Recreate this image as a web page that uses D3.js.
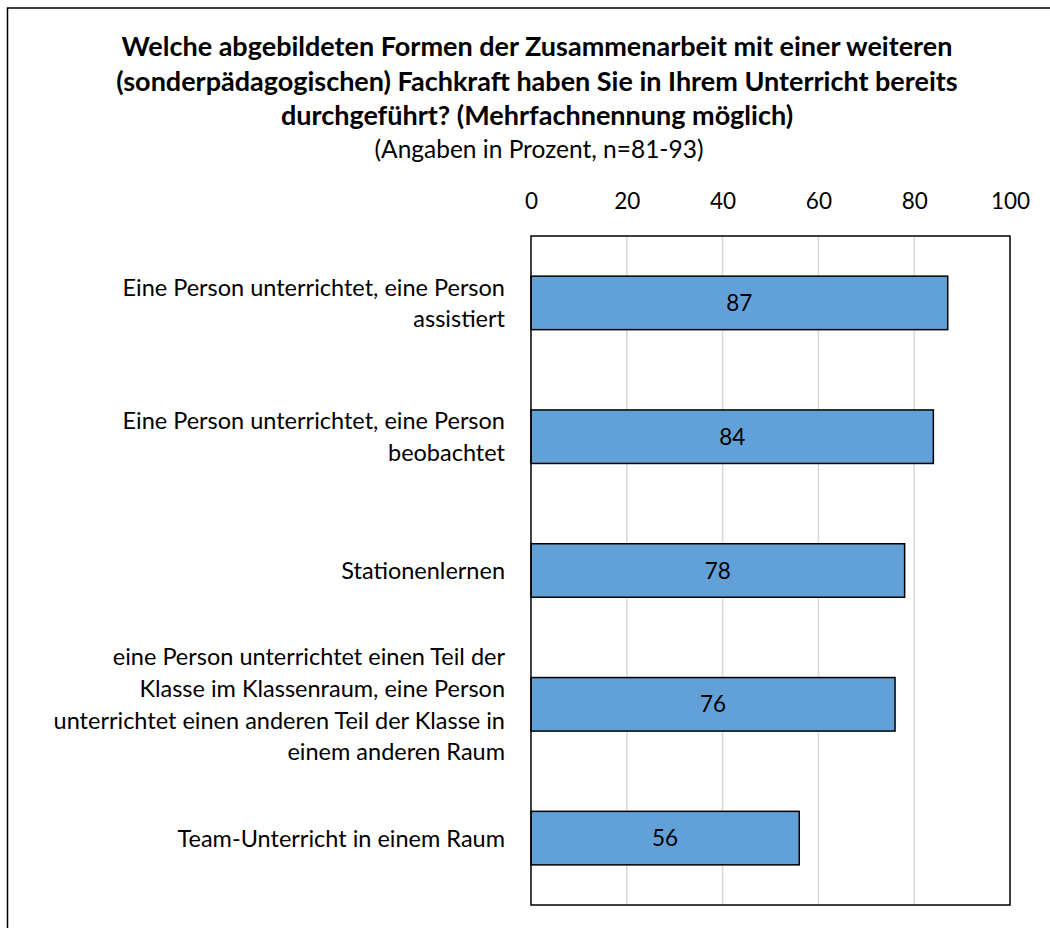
<!DOCTYPE html>
<html>
<head>
<meta charset="utf-8">
<script src="https://cdn.jsdelivr.net/npm/d3@7"></script>
<style>
  body { margin: 0; background: #fff; }
  svg { display: block; font-family: Lato, "Open Sans", sans-serif; }
</style>
</head>
<body>
<div id="chart"></div>
<script>
// data
var categories = [
  "Eine Person unterrichtet, eine Person|assistiert",
  "Eine Person unterrichtet, eine Person|beobachtet",
  "Stationenlernen",
  "eine Person unterrichtet einen Teil der|Klasse im Klassenraum, eine Person|unterrichtet einen anderen Teil der Klasse in|einem anderen Raum",
  "Team-Unterricht in einem Raum"
];
var values = [87, 84, 78, 76, 56];
var tickValues = [0, 20, 40, 60, 80, 100];
var titleLines = [
  "Welche abgebildeten Formen der Zusammenarbeit mit einer weiteren",
  "(sonderpädagogischen) Fachkraft haben Sie in Ihrem Unterricht bereits",
  "durchgeführt? (Mehrfachnennung möglich)"
];
var subtitle = "(Angaben in Prozent, n=81-93)";

var W = 1050, H = 928;
var plotLeft = 531, plotRight = 1010, plotTop = 236, plotBottom = 905;

var svg = d3.select("#chart").append("svg")
  .attr("width", W)
  .attr("height", H);

// outer frame
svg.append("rect")
  .attr("x", 7.5).attr("y", 8)
  .attr("width", W + 20).attr("height", H + 20)
  .attr("fill", "none")
  .attr("stroke", "#000")
  .attr("stroke-width", 1.5);

// title
svg.append("text")
  .attr("text-anchor", "middle")
  .attr("font-weight", "bold")
  .attr("font-size", 27)
  .selectAll("tspan")
  .data(titleLines)
  .join("tspan")
    .attr("x", 537)
    .attr("y", (d, i) => 56 + i * 34.5)
    .text(d => d);

svg.append("text")
  .attr("x", 539).attr("y", 158)
  .attr("text-anchor", "middle")
  .attr("font-size", 24.5)
  .text(subtitle);

var x = d3.scaleLinear()
  .domain([0, 100])
  .range([plotLeft, plotRight]);

var y = d3.scaleBand()
  .domain(categories)
  .range([plotTop, plotBottom])
  .paddingInner(0.6)
  .paddingOuter(0.3);

// gridlines
svg.append("g")
  .selectAll("line")
  .data(tickValues.slice(1, -1))
  .join("line")
    .attr("x1", d => x(d)).attr("x2", d => x(d))
    .attr("y1", plotTop).attr("y2", plotBottom)
    .attr("stroke", "#d9d9d9")
    .attr("stroke-width", 1.5);

// top axis labels
var axis = svg.append("g")
  .attr("transform", "translate(0,209)")
  .call(d3.axisTop(x).tickValues(tickValues).tickSize(0).tickPadding(0));
axis.select(".domain").remove();
axis.selectAll("text")
  .attr("font-size", 22.5)
  .attr("font-family", "Lato, 'Open Sans', sans-serif")
  .attr("fill", "#000");

// bars
svg.append("g")
  .selectAll("rect")
  .data(values)
  .join("rect")
    .attr("x", x(0))
    .attr("y", (d, i) => y(categories[i]))
    .attr("width", d => x(d) - x(0))
    .attr("height", y.bandwidth())
    .attr("fill", "#62a0d8")
    .attr("stroke", "#000")
    .attr("stroke-width", 1.5);

// value labels
svg.append("g")
  .selectAll("text")
  .data(values)
  .join("text")
    .attr("x", d => (x(0) + x(d)) / 2)
    .attr("y", (d, i) => y(categories[i]) + y.bandwidth() / 2)
    .attr("dy", "0.36em")
    .attr("text-anchor", "middle")
    .attr("font-size", 22.5)
    .text(d => d);

// plot frame
svg.append("rect")
  .attr("x", plotLeft).attr("y", plotTop)
  .attr("width", plotRight - plotLeft)
  .attr("height", plotBottom - plotTop)
  .attr("fill", "none")
  .attr("stroke", "#000")
  .attr("stroke-width", 1.5);

// category labels
var lineH = 31.6;
svg.append("g")
  .selectAll("text")
  .data(categories)
  .join("text")
    .attr("text-anchor", "end")
    .attr("font-size", 23.5)
    .each(function(d) {
      var lines = d.split("|");
      var cy = y(d) + y.bandwidth() / 2;
      var y0 = cy - (lines.length - 1) * lineH / 2;
      d3.select(this).selectAll("tspan")
        .data(lines)
        .join("tspan")
          .attr("x", 505)
          .attr("y", (l, i) => y0 + i * lineH)
          .attr("dy", "0.36em")
          .text(l => l);
    });
</script>
</body>
</html>
